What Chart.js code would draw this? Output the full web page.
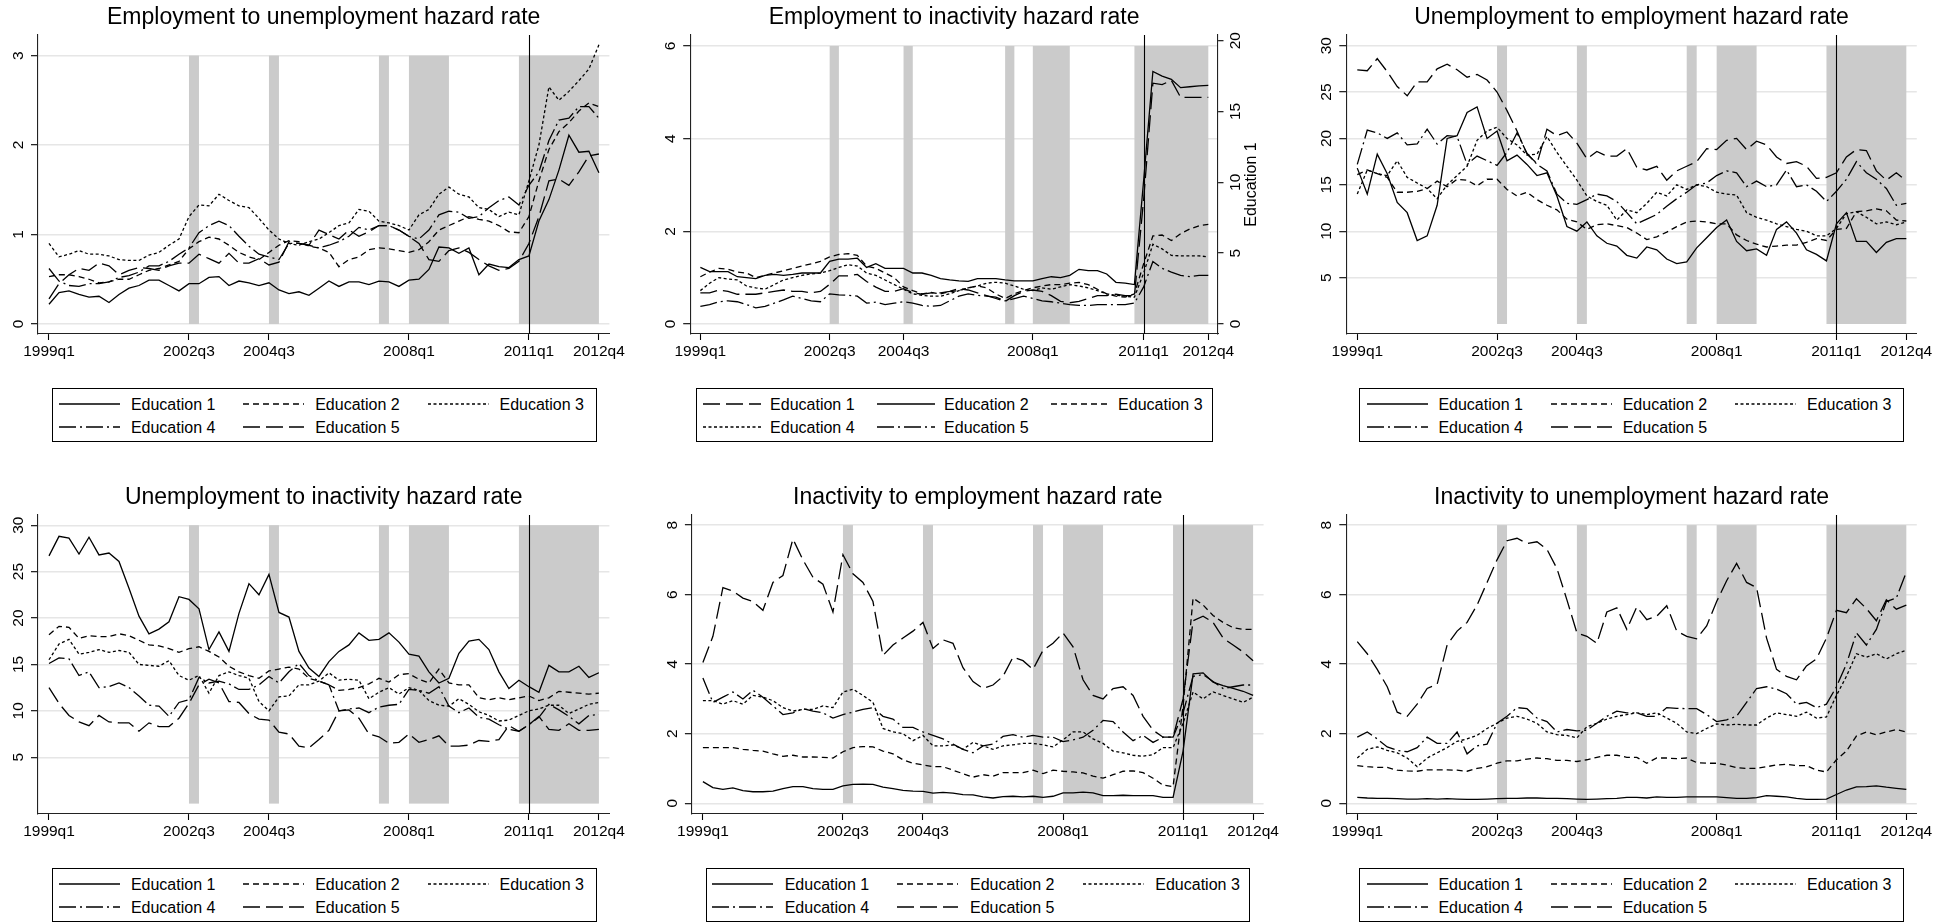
<!DOCTYPE html>
<html>
<head>
<meta charset="utf-8">
<script src="https://cdn.jsdelivr.net/npm/chart.js@4/dist/chart.umd.min.js"></script>
<style>
  body { margin: 0; background: #fff; }
  #page { position: relative; width: 1959px; height: 922px; overflow: hidden; background: #fff;
          font-family: "Liberation Sans", Arial, sans-serif; color: #000; }
  #page canvas { position: absolute; }
  .legend { position: absolute; box-sizing: border-box; height: 54px; border: 1px solid #000; }
  .legend .item { position: absolute; display: flex; align-items: center; height: 20px;
                  font-size: 16px; white-space: nowrap; }
  .legend svg { display: block; }
</style>
</head>
<body>
<div id="page"></div>
<script>
const quarters = [
  '1999q1','1999q2','1999q3','1999q4','2000q1','2000q2','2000q3','2000q4',
  '2001q1','2001q2','2001q3','2001q4','2002q1','2002q2','2002q3','2002q4',
  '2003q1','2003q2','2003q3','2003q4','2004q1','2004q2','2004q3','2004q4',
  '2005q1','2005q2','2005q3','2005q4','2006q1','2006q2','2006q3','2006q4',
  '2007q1','2007q2','2007q3','2007q4','2008q1','2008q2','2008q3','2008q4',
  '2009q1','2009q2','2009q3','2009q4','2010q1','2010q2','2010q3','2010q4',
  '2011q1','2011q2','2011q3','2011q4','2012q1','2012q2','2012q3','2012q4'
]
const xTickQuarters = ['1999q1', '2002q3', '2004q3', '2008q1', '2011q1', '2012q4']
const shadedPeriods = [['2002q3', '2002q4'], ['2004q3', '2004q4'], ['2007q2', '2007q3'],
                       ['2008q1', '2009q1'], ['2010q4', '2012q4']]
const breakQuarter = '2011q1'
const eduLabels = ['Education 1', 'Education 2', 'Education 3', 'Education 4', 'Education 5']

// Employment to unemployment
const euEdu1 = [0.22,0.35,0.37,0.33,0.30,0.31,0.24,0.33,0.40,0.43,0.49,0.49,0.43,0.37,0.45,0.45,0.52,0.53,0.43,0.48,0.46,0.43,0.46,0.38,0.34,0.36,0.32,0.40,0.48,0.42,0.47,0.47,0.44,0.48,0.47,0.42,0.49,0.50,0.61,0.86,0.85,0.79,0.85,0.55,0.67,0.64,0.63,0.72,0.76,1.15,1.39,1.72,2.11,1.92,1.93,1.69]
const euEdu2 = [0.53,0.55,0.55,0.53,0.50,0.46,0.47,0.50,0.50,0.55,0.60,0.62,0.66,0.70,0.84,0.92,0.97,0.95,0.88,0.80,0.75,0.72,0.80,0.88,0.93,0.92,0.87,0.85,0.80,0.64,0.72,0.75,0.83,0.85,0.84,0.82,0.80,0.83,0.92,1.05,1.10,1.15,1.20,1.17,1.15,1.10,1.03,1.02,1.20,1.60,1.95,2.15,2.25,2.38,2.47,2.43]
const euEdu3 = [0.90,0.75,0.78,0.82,0.78,0.78,0.76,0.72,0.71,0.71,0.77,0.80,0.88,0.95,1.20,1.33,1.32,1.45,1.38,1.32,1.30,1.18,1.05,0.95,0.90,0.88,0.92,0.95,1.02,1.10,1.13,1.28,1.26,1.15,1.13,1.10,1.05,1.22,1.28,1.45,1.53,1.45,1.42,1.30,1.28,1.20,1.25,1.22,1.60,2.00,2.65,2.50,2.60,2.72,2.85,3.12]
const euEdu4 = [0.62,0.48,0.43,0.42,0.45,0.45,0.47,0.52,0.54,0.58,0.65,0.65,0.70,0.78,0.85,1.02,1.10,1.15,1.10,0.98,0.87,0.78,0.75,0.72,0.90,0.90,0.88,0.85,0.88,0.92,0.98,1.08,1.05,1.10,1.10,1.05,0.98,0.95,1.05,1.22,1.26,1.25,1.18,1.20,1.30,1.38,1.42,1.33,1.55,1.70,2.05,2.28,2.30,2.43,2.43,2.30]
const euEdu5 = [0.28,0.45,0.55,0.62,0.60,0.68,0.65,0.55,0.60,0.63,0.62,0.60,0.65,0.68,0.68,0.78,0.73,0.68,0.79,0.68,0.68,0.73,0.66,0.69,0.92,0.90,0.88,1.05,1.00,0.95,1.05,0.98,1.03,1.10,1.10,1.05,0.98,0.90,0.72,0.70,0.82,0.85,0.80,0.72,0.65,0.60,0.62,0.70,0.90,1.20,1.60,1.62,1.55,1.70,1.88,1.90]

// Employment to inactivity (Education 1 on the right axis)
const eiEdu1 = [2.2,2.2,2.4,2.3,2.1,2.1,2.1,2.2,2.3,2.4,2.3,2.3,2.2,2.3,2.8,3.4,3.4,3.5,3.0,2.6,2.3,2.3,2.5,2.2,2.1,2.2,2.2,2.3,2.5,2.4,2.2,2.0,1.8,1.6,2.0,2.3,2.4,2.3,2.0,1.6,1.5,1.6,1.8,2.0,2.0,2.1,2.0,2.0,8.8,17.0,16.9,17.2,16.0,16.0,16.0,16.0]
const eiEdu2 = [1.22,1.13,1.13,1.13,1.02,1.00,0.98,1.05,1.07,1.05,1.07,1.10,1.10,1.10,1.35,1.40,1.40,1.42,1.22,1.30,1.20,1.20,1.20,1.10,1.10,1.05,0.98,0.95,0.93,0.92,0.98,0.98,0.98,0.95,0.93,0.93,0.93,0.98,1.02,1.00,1.05,1.18,1.15,1.15,1.08,0.90,0.88,0.85,3.10,5.45,5.35,5.28,5.10,5.12,5.14,5.15]
const eiEdu3 = [1.02,1.12,1.20,1.18,1.12,1.10,1.00,1.05,1.10,1.15,1.20,1.25,1.30,1.35,1.45,1.50,1.52,1.48,1.25,1.20,1.10,1.00,0.80,0.72,0.65,0.68,0.65,0.70,0.72,0.78,0.82,0.78,0.65,0.55,0.65,0.72,0.78,0.82,0.85,0.85,0.88,0.90,0.85,0.75,0.65,0.60,0.58,0.65,1.30,1.90,1.92,1.80,1.95,2.05,2.12,2.15]
const eiEdu4 = [0.72,0.88,1.00,0.97,0.95,0.82,0.78,0.75,0.85,0.95,1.00,1.05,1.08,1.10,1.15,1.22,1.28,1.25,1.10,1.05,0.95,0.85,0.75,0.65,0.62,0.60,0.60,0.65,0.72,0.78,0.82,0.88,0.90,0.88,0.82,0.75,0.72,0.78,0.75,0.80,0.85,0.82,0.78,0.72,0.65,0.62,0.60,0.58,1.10,1.72,1.62,1.48,1.47,1.47,1.47,1.45]
const eiEdu5 = [0.38,0.42,0.48,0.50,0.48,0.42,0.35,0.38,0.45,0.52,0.60,0.55,0.50,0.48,0.65,0.63,0.62,0.60,0.45,0.47,0.42,0.45,0.48,0.45,0.40,0.38,0.40,0.50,0.60,0.65,0.62,0.60,0.58,0.50,0.55,0.60,0.55,0.50,0.48,0.45,0.42,0.40,0.40,0.42,0.42,0.42,0.42,0.45,0.80,1.35,1.20,1.12,1.05,1.02,1.05,1.05]

// Unemployment to employment
const ueEdu1 = [16.8,14.0,18.3,16.2,13.1,12.0,9.0,9.5,12.8,20.0,20.3,22.8,23.4,20.0,20.8,17.6,18.2,17.2,16.0,16.3,13.8,10.5,10.0,11.0,9.5,8.7,8.4,7.4,7.1,8.3,8.0,7.0,6.5,6.7,8.2,9.3,10.4,11.2,8.9,7.9,8.1,7.4,10.2,11.0,9.8,8.0,7.5,6.8,10.8,12.0,8.9,8.9,7.7,8.8,9.2,9.2]
const ueEdu2 = [16.1,16.6,16.2,15.8,14.2,14.2,14.3,14.6,15.4,14.8,15.6,15.5,14.9,15.6,15.6,14.5,13.8,14.2,13.4,12.8,12.3,11.3,11.0,10.2,10.7,10.8,10.6,10.4,9.8,9.1,9.4,9.9,10.5,11.0,11.1,11.0,10.8,10.8,9.6,9.0,8.6,8.3,8.4,8.5,8.5,8.8,9.2,9.0,10.2,10.3,12.1,12.2,12.4,12.2,11.2,11.1]
const ueEdu3 = [14.0,16.6,16.2,16.0,17.6,15.8,15.2,14.6,13.5,15.0,16.0,17.0,19.8,20.8,21.2,20.0,19.3,18.2,18.3,20.2,18.5,17.0,15.5,13.8,13.2,12.8,11.2,12.3,12.0,13.0,14.2,13.8,15.0,14.5,15.0,14.8,14.2,14.0,13.9,12.0,11.5,11.2,10.8,10.5,10.2,10.0,9.5,9.5,10.3,11.9,12.1,11.5,10.8,11.0,10.7,11.0]
const ueEdu4 = [17.2,20.9,20.6,20.0,20.6,19.3,19.4,21.0,19.4,20.3,20.2,17.2,18.1,17.6,17.1,18.5,20.6,18.4,17.2,16.5,14.0,13.0,12.9,13.4,14.0,13.8,13.2,12.0,10.8,11.3,11.8,12.7,13.5,14.2,15.0,15.2,16.0,16.5,16.3,14.8,15.4,14.8,15.0,16.6,14.8,15.0,14.3,13.2,14.3,15.6,17.5,16.3,15.6,14.6,12.8,13.0]
const ueEdu5 = [27.4,27.3,28.6,27.2,25.6,24.6,26.1,26.1,27.5,28.0,27.4,26.6,26.9,26.3,25.0,23.0,20.8,18.3,17.3,21.0,20.3,20.7,19.5,17.8,18.6,18.1,18.1,18.9,16.9,16.6,17.0,15.5,16.5,17.0,17.5,18.9,18.8,19.8,20.0,18.8,19.7,19.3,18.0,17.3,17.5,17.0,15.7,15.8,16.3,18.0,18.8,18.7,16.5,15.5,16.3,15.4]

// Unemployment to inactivity
const uiEdu1 = [26.7,28.8,28.6,26.9,28.7,26.8,27.0,26.1,23.2,20.2,18.3,18.8,19.6,22.3,22.0,21.0,16.6,18.5,16.4,20.5,23.7,22.5,24.7,20.6,20.1,16.4,14.6,13.7,15.3,16.4,17.1,18.4,17.6,17.7,18.4,17.4,16.1,15.9,14.2,13.0,13.5,16.2,17.5,17.7,16.6,14.2,12.4,13.3,12.6,12.0,14.9,14.2,14.2,14.8,13.6,14.1]
const uiEdu2 = [18.2,19.1,19.0,17.8,18.1,18.0,18.0,18.3,18.1,17.6,17.1,17.0,16.7,16.3,16.7,16.9,16.4,15.8,14.8,14.2,13.8,13.5,14.3,14.5,14.7,14.5,13.5,13.2,12.8,12.2,12.3,12.5,12.9,13.5,13.1,13.9,14.0,13.4,13.0,14.5,13.0,12.8,12.8,11.4,11.2,11.4,11.2,11.4,11.6,11.1,11.4,12.1,12.0,11.9,11.8,11.9]
const uiEdu3 = [15.5,17.2,17.7,16.1,16.3,16.6,16.3,16.5,16.3,15.0,14.9,14.8,15.4,13.8,13.3,13.8,11.9,13.8,14.2,13.8,13.5,11.0,10.0,11.5,11.6,12.8,12.8,13.2,14.1,13.3,13.4,13.3,11.3,12.0,12.5,11.8,12.5,12.2,11.1,10.6,10.5,11.3,10.7,9.9,9.5,8.9,9.0,9.5,10.0,10.2,10.6,10.6,9.7,10.2,10.7,10.9]
const uiEdu4 = [15.1,15.7,15.6,13.8,14.2,12.5,12.6,13.0,12.5,11.6,10.6,10.5,9.4,10.9,11.2,13.6,13.0,13.2,12.9,12.3,12.3,12.8,13.7,13.0,14.2,15.1,13.8,13.2,12.8,10.0,10.2,10.3,9.8,10.4,10.6,10.7,12.3,12.2,11.9,12.6,10.5,9.8,10.3,9.3,9.1,8.5,8.0,7.8,8.5,9.3,10.7,10.1,9.4,8.6,9.5,9.6]
const uiEdu5 = [12.5,10.8,9.5,8.8,8.4,9.5,8.8,8.7,8.7,7.8,8.7,8.3,8.3,9.2,10.8,12.8,13.4,13.0,11.0,10.9,9.7,9.1,9.0,7.7,7.5,6.2,6.0,6.9,7.9,10.0,10.1,9.2,7.5,7.2,6.5,6.6,7.5,6.6,6.9,7.3,6.2,6.2,6.3,6.8,6.7,6.9,8.4,7.8,8.5,9.4,8.0,7.9,8.6,7.9,7.9,8.0]

// Inactivity to employment
const ieEdu1 = [0.62,0.45,0.40,0.44,0.36,0.33,0.33,0.35,0.42,0.48,0.48,0.42,0.40,0.40,0.50,0.54,0.55,0.54,0.46,0.42,0.37,0.35,0.34,0.29,0.31,0.29,0.25,0.24,0.18,0.15,0.19,0.20,0.18,0.20,0.17,0.20,0.30,0.30,0.32,0.30,0.22,0.22,0.23,0.22,0.22,0.22,0.17,0.17,1.50,3.72,3.75,3.48,3.38,3.30,3.22,3.10]
const ieEdu2 = [1.60,1.60,1.60,1.60,1.55,1.52,1.50,1.42,1.35,1.38,1.33,1.33,1.32,1.30,1.48,1.60,1.63,1.62,1.50,1.42,1.25,1.15,1.10,1.05,1.05,0.95,0.85,0.75,0.82,0.78,0.88,0.88,0.88,0.95,0.85,0.95,0.92,0.90,0.87,0.78,0.72,0.82,0.92,0.93,0.88,0.72,0.52,0.48,2.80,5.90,5.70,5.40,5.20,5.05,5.00,5.00]
const ieEdu3 = [2.95,2.95,2.85,2.95,2.85,3.10,3.05,2.95,2.75,2.65,2.70,2.70,2.80,2.75,3.20,3.28,3.10,2.90,2.15,2.05,2.00,1.80,1.95,1.65,1.65,1.68,1.55,1.75,1.65,1.55,1.65,1.68,1.72,1.72,1.68,1.62,1.82,2.05,2.05,1.85,1.72,1.50,1.45,1.38,1.35,1.40,1.60,1.60,2.30,3.20,3.00,3.20,3.10,3.00,2.90,3.05]
const ieEdu4 = [3.60,2.90,3.05,3.20,3.00,3.25,3.05,2.80,2.55,2.60,2.72,2.65,2.60,2.45,2.55,2.62,2.70,2.75,2.50,2.42,2.18,2.18,2.05,1.95,1.85,1.70,1.55,1.45,1.65,1.70,1.92,1.97,1.90,1.95,1.90,1.90,1.77,1.82,1.90,2.10,2.38,2.35,2.05,1.80,1.95,1.75,1.90,1.90,2.60,3.65,3.70,3.50,3.30,3.35,3.40,3.40]
const ieEdu5 = [4.05,4.80,6.20,6.10,5.90,5.80,5.55,6.35,6.55,7.60,7.00,6.50,6.30,5.50,7.15,6.60,6.35,5.80,4.25,4.55,4.75,4.95,5.20,4.45,4.70,4.60,3.90,3.50,3.30,3.40,3.65,4.20,4.10,3.85,4.40,4.60,4.90,4.50,3.55,3.10,3.00,3.30,3.35,3.10,2.50,2.10,1.90,1.90,3.00,5.25,5.38,5.20,4.75,4.55,4.35,4.10]

// Inactivity to unemployment
const iuEdu1 = [0.17,0.15,0.14,0.14,0.13,0.12,0.12,0.13,0.12,0.13,0.12,0.11,0.11,0.12,0.13,0.14,0.14,0.15,0.15,0.14,0.14,0.13,0.12,0.11,0.12,0.13,0.14,0.17,0.17,0.15,0.18,0.17,0.17,0.18,0.18,0.18,0.18,0.16,0.14,0.14,0.16,0.22,0.20,0.18,0.14,0.11,0.11,0.12,0.25,0.38,0.47,0.48,0.50,0.46,0.43,0.40]
const iuEdu2 = [1.08,1.05,1.03,1.03,0.95,0.93,0.92,0.96,0.96,0.96,0.95,0.92,1.00,1.05,1.15,1.22,1.22,1.27,1.30,1.28,1.23,1.23,1.20,1.25,1.32,1.38,1.38,1.32,1.32,1.15,1.30,1.30,1.28,1.30,1.17,1.15,1.15,1.10,1.02,1.00,1.00,1.05,1.10,1.12,1.08,1.08,0.95,0.90,1.25,1.50,1.93,2.05,1.97,2.05,2.12,2.05]
const iuEdu3 = [1.30,1.55,1.62,1.52,1.45,1.30,1.05,1.30,1.45,1.60,1.78,1.85,1.95,2.15,2.30,2.45,2.50,2.42,2.30,2.05,1.97,1.95,1.88,2.20,2.30,2.42,2.50,2.55,2.60,2.55,2.60,2.45,2.30,2.05,2.00,2.15,2.28,2.25,2.27,2.25,2.25,2.45,2.60,2.55,2.50,2.62,2.45,2.48,3.10,3.65,4.30,4.20,4.30,4.15,4.30,4.40]
const iuEdu4 = [1.90,2.05,1.85,1.62,1.52,1.48,1.60,1.90,1.72,1.72,2.05,1.42,1.65,1.70,2.30,2.50,2.75,2.72,2.45,2.35,2.05,2.12,2.08,2.10,2.30,2.50,2.65,2.60,2.60,2.50,2.50,2.75,2.73,2.72,2.72,2.55,2.35,2.40,2.50,2.90,3.30,3.35,3.28,3.15,2.85,2.90,2.75,2.85,3.35,4.00,4.90,4.55,5.00,5.80,5.90,6.65]
const iuEdu5 = [4.65,4.30,3.85,3.35,2.62,2.50,2.85,3.30,3.42,4.55,4.95,5.20,5.70,6.35,7.00,7.55,7.62,7.47,7.52,7.30,6.75,5.85,4.90,4.80,4.60,5.50,5.62,5.00,5.65,5.28,5.38,5.68,4.95,4.80,4.73,5.10,5.80,6.40,6.90,6.35,6.20,4.75,3.85,3.65,3.55,3.95,4.15,4.75,5.55,5.48,5.88,5.60,5.25,5.85,5.58,5.70]

const lineColor = '#000'
const bandColor = '#cbcbcb'
const gridColor = '#e6e6e6'
const fontFamily = '"Liberation Sans", Arial, sans-serif'
const dashes = {
  solid: [],
  dash: [6, 4],
  shortdash: [3, 2.5],
  dashdot: [17, 4, 2, 4],
  longdash: [17, 6]
}
const stdStyles = ['solid', 'dash', 'shortdash', 'dashdot', 'longdash']

const panels = [
  { title: 'Employment to unemployment hazard rate', left: 0, top: 0, width: 640,
    yWidth: 38, padRight: 30.6, yMin: -0.112, yMax: 3.23, yTicks: [0, 1, 2, 3], yPad: 8, bandTop: 3,
    series: [euEdu1, euEdu2, euEdu3, euEdu4, euEdu5], styles: stdStyles,
    legend: { left: 51.8, width: 545.3, inset: 7.4, lineLen: 61, gap: 10.7, pitch: 184.3 } },
  { title: 'Employment to inactivity hazard rate', left: 650, top: 0, width: 650,
    yWidth: 40.2, padRight: 37, yMin: -0.216, yMax: 6.237, yTicks: [0, 2, 4, 6], yPad: 8, bandTop: 6,
    series: [eiEdu1, eiEdu2, eiEdu3, eiEdu4, eiEdu5],
    styles: ['longdash', 'solid', 'dash', 'shortdash', 'dashdot'],
    right: { index: 0, width: 45, min: -0.706, max: 20.4, ticks: [0, 5, 10, 15, 20], title: 'Education 1' },
    legend: { left: 695.6, width: 517.4, inset: 7.5, lineLen: 58, gap: 9, pitch: 174 } },
  { title: 'Unemployment to employment hazard rate', left: 1305, top: 0, width: 654,
    yWidth: 41.3, padRight: 42.2, yMin: -1.08, yMax: 31.15, yTicks: [5, 10, 15, 20, 25, 30], yPad: 3.7, bandTop: 30,
    series: [ueEdu1, ueEdu2, ueEdu3, ueEdu4, ueEdu5], styles: stdStyles,
    legend: { left: 1359.2, width: 545, inset: 7.5, lineLen: 61, gap: 10.7, pitch: 184.3 } },
  { title: 'Unemployment to inactivity hazard rate', left: 0, top: 480, width: 640,
    yWidth: 38, padRight: 30.6, yMin: -1.12, yMax: 31.1, yTicks: [5, 10, 15, 20, 25, 30], yPad: 3.7, bandTop: 30,
    series: [uiEdu1, uiEdu2, uiEdu3, uiEdu4, uiEdu5], styles: stdStyles,
    legend: { left: 51.8, width: 545.3, inset: 7.4, lineLen: 61, gap: 10.7, pitch: 184.3 } },
  { title: 'Inactivity to employment hazard rate', left: 650, top: 480, width: 650,
    yWidth: 41.9, padRight: 36.4, yMin: -0.31, yMax: 8.29, yTicks: [0, 2, 4, 6, 8], yPad: 8, bandTop: 8,
    series: [ieEdu1, ieEdu2, ieEdu3, ieEdu4, ieEdu5], styles: stdStyles,
    legend: { left: 706.4, width: 543.9, inset: 5.8, lineLen: 61, gap: 11.5, pitch: 185.3 } },
  { title: 'Inactivity to unemployment hazard rate', left: 1305, top: 480, width: 654,
    yWidth: 41.3, padRight: 42.2, yMin: -0.31, yMax: 8.29, yTicks: [0, 2, 4, 6, 8], yPad: 8, bandTop: 8,
    series: [iuEdu1, iuEdu2, iuEdu3, iuEdu4, iuEdu5], styles: stdStyles,
    legend: { left: 1359.2, width: 545, inset: 7.5, lineLen: 61, gap: 10.7, pitch: 184.3 } }
]

const page = document.getElementById('page')
Chart.defaults.font.family = fontFamily
Chart.defaults.color = '#000'

// grey shaded periods plus the vertical line at the break quarter
const bandsPlugin = {
  id: 'bands',
  beforeDatasetsDraw(chart, args, opts) {
    const { ctx, chartArea, scales: { x, y } } = chart
    ctx.save()
    ctx.fillStyle = bandColor
    const yTop = y.getPixelForValue(opts.top)
    const yBot = y.getPixelForValue(0)
    shadedPeriods.forEach(([a, b]) => {
      const x0 = x.getPixelForValue(quarters.indexOf(a))
      const x1 = x.getPixelForValue(quarters.indexOf(b))
      ctx.fillRect(x0, yTop, x1 - x0, yBot - yTop)
    })
    const xb = Math.round(x.getPixelForValue(quarters.indexOf(breakQuarter))) + 0.5
    ctx.strokeStyle = '#000'
    ctx.lineWidth = 1.1
    ctx.beginPath()
    ctx.moveTo(xb, chartArea.top)
    ctx.lineTo(xb, chartArea.bottom)
    ctx.stroke()
    ctx.restore()
  }
}

// axis title for the right axis, reading bottom to top like the tick labels
const sideTitlePlugin = {
  id: 'sideTitle',
  afterDraw(chart, args, opts) {
    if (!opts.text) return
    const { ctx, chartArea } = chart
    ctx.save()
    ctx.translate(chartArea.right + opts.offset, (chartArea.top + chartArea.bottom) / 2)
    ctx.rotate(-Math.PI / 2)
    ctx.font = '16px ' + fontFamily
    ctx.fillStyle = '#000'
    ctx.textAlign = 'center'
    ctx.textBaseline = 'middle'
    ctx.fillText(opts.text, 0, 0)
    ctx.restore()
  }
}

function yAxis(pos, min, max, ticks, width, tickLen, pad) {
  return {
    position: pos,
    min: min,
    max: max,
    afterBuildTicks: s => { s.ticks = ticks.map(v => ({ value: v })) },
    afterFit: s => { s.width = width; s.paddingTop = 0; s.paddingBottom = 0 },
    grid: {
      drawOnChartArea: pos === 'left',
      color: gridColor,
      lineWidth: 1.4,
      tickLength: tickLen,
      tickColor: '#000',
      tickWidth: 1.1
    },
    border: { color: '#222', width: 1.1 },
    ticks: {
      minRotation: 90,
      maxRotation: 90,
      crossAlign: 'center',
      padding: pad,
      color: '#000',
      font: { size: 15.5 },
      callback: v => String(v)
    }
  }
}

function makeChart(p) {
  const canvas = document.createElement('canvas')
  canvas.width = p.width
  canvas.height = 375
  canvas.style.left = p.left + 'px'
  canvas.style.top = p.top + 'px'
  page.appendChild(canvas)

  const datasets = p.series.map((values, k) => ({
    label: eduLabels[k],
    data: values.map((v, i) => ({ x: i, y: v })),
    yAxisID: p.right && p.right.index === k ? 'y2' : 'y',
    borderColor: lineColor,
    borderWidth: 1.3,
    borderDash: dashes[p.styles[k]],
    borderCapStyle: 'butt',
    pointRadius: 0,
    fill: false,
    tension: 0
  }))

  const scales = {
    x: {
      type: 'linear',
      min: -1.1,
      max: 56.05,
      afterBuildTicks: s => { s.ticks = xTickQuarters.map(q => ({ value: quarters.indexOf(q) })) },
      afterFit: s => { s.height = 41; s.paddingLeft = 0; s.paddingRight = 0 },
      grid: { drawOnChartArea: false, tickLength: 6, tickColor: '#000', tickWidth: 1.1 },
      border: { color: '#222', width: 1.1 },
      ticks: {
        autoSkip: false,
        maxRotation: 0,
        padding: 2,
        color: '#000',
        font: { size: 15.5 },
        callback: v => quarters[v]
      }
    },
    y: yAxis('left', p.yMin, p.yMax, p.yTicks, p.yWidth, 7, p.yPad)
  }
  if (p.right) {
    scales.y2 = yAxis('right', p.right.min, p.right.max, p.right.ticks, p.right.width, 5.5, 3.4)
  }

  new Chart(canvas, {
    type: 'line',
    data: { datasets: datasets },
    options: {
      responsive: false,
      animation: false,
      events: [],
      layout: { padding: { left: 0, right: p.padRight, top: 0, bottom: 0 } },
      scales: scales,
      plugins: {
        legend: { display: false },
        tooltip: { enabled: false },
        title: {
          display: true,
          text: p.title,
          fullSize: false,
          color: '#000',
          font: { size: 23, weight: 'normal', lineHeight: 1.2 },
          padding: { top: 4, bottom: 3.4 }
        },
        bands: { top: p.bandTop },
        sideTitle: { text: p.right ? p.right.title : '', offset: 34 }
      }
    },
    plugins: [bandsPlugin, sideTitlePlugin]
  })
}

function makeLegend(p) {
  const lg = p.legend
  const box = document.createElement('div')
  box.className = 'legend'
  box.style.left = lg.left + 'px'
  box.style.top = (p.top + 388) + 'px'
  box.style.width = lg.width + 'px'
  p.styles.forEach((st, k) => {
    const item = document.createElement('div')
    item.className = 'item'
    item.style.left = (lg.inset - 1 + (k % 3) * lg.pitch) + 'px'
    item.style.top = (k < 3 ? 5 : 28.3) + 'px'
    const dash = dashes[st].length ? ' stroke-dasharray="' + dashes[st].join(' ') + '"' : ''
    item.innerHTML =
      '<svg width="' + lg.lineLen + '" height="4"><line x1="0" y1="2" x2="' + lg.lineLen +
      '" y2="2" stroke="' + lineColor + '" stroke-width="1.3"' + dash + '/></svg>' +
      '<span style="margin-left:' + lg.gap + 'px;padding-top:2px">' + eduLabels[k] + '</span>'
    box.appendChild(item)
  })
  page.appendChild(box)
}

panels.forEach(p => {
  makeChart(p)
  makeLegend(p)
})
</script>
</body>
</html>
